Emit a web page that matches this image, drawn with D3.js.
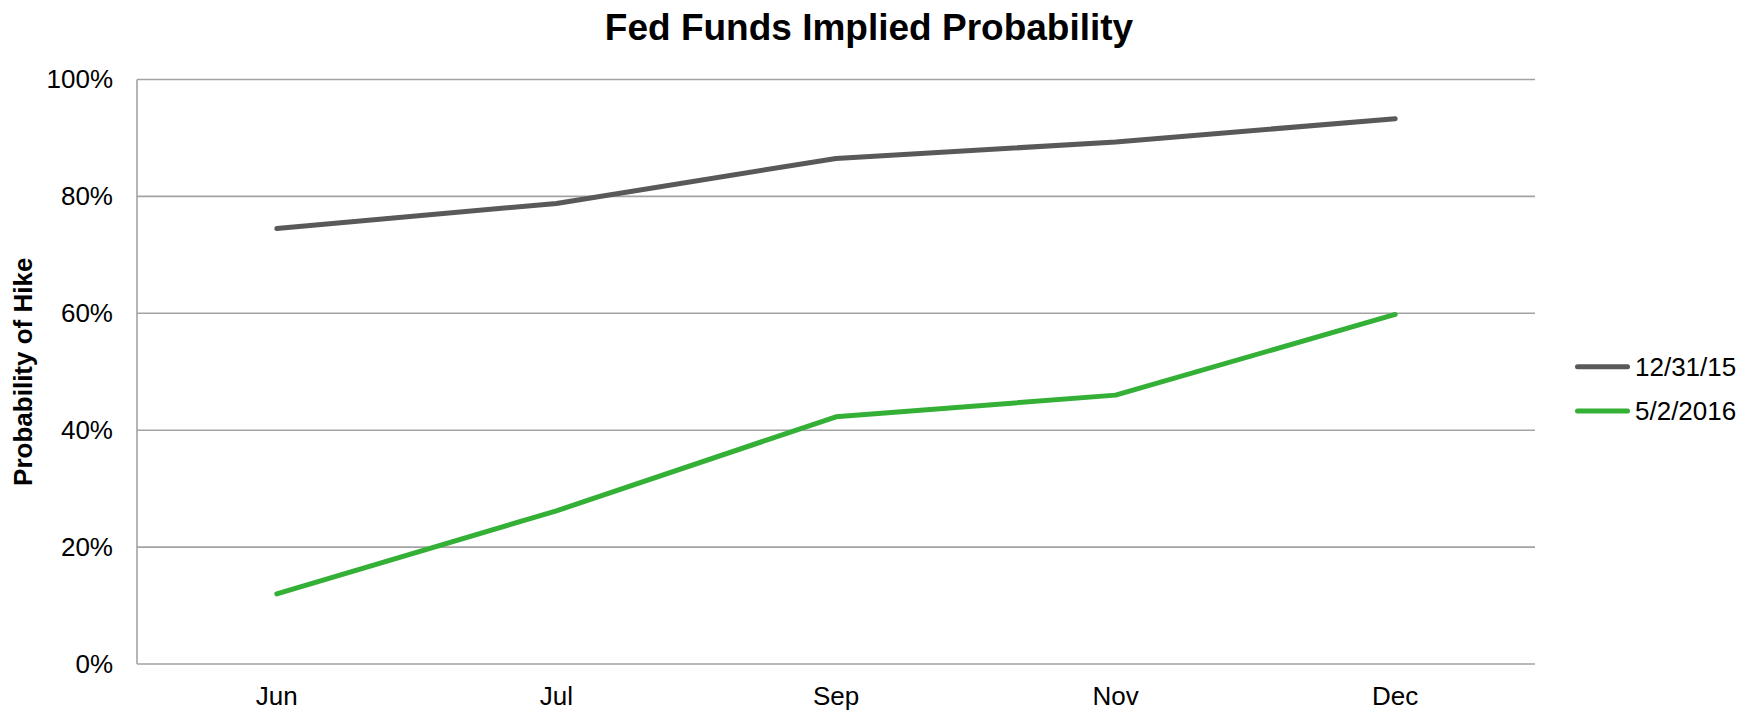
<!DOCTYPE html>
<html>
<head>
<meta charset="utf-8">
<script src="https://cdn.jsdelivr.net/npm/d3@7"></script>
<style>
  html, body { margin: 0; padding: 0; background: #fff; }
  svg { display: block; font-family: "Liberation Sans", Arial, sans-serif; }
</style>
</head>
<body>
<svg id="chart" width="1752" height="711"></svg>
<script>
// Meeting months and hike probabilities (%) on two dates
const months = ["Jun", "Jul", "Sep", "Nov", "Dec"];
const seriesNames = ["12/31/15", "5/2/2016"];
const probDec2015 = [74.5, 78.8, 86.5, 89.3, 93.3];
const probMay2016 = [12.0, 26.2, 42.3, 46.0, 59.8];
const yTicks = [0, 20, 40, 60, 80, 100];

const colors = ["#595959", "#33b035"];
const series = [
  { name: seriesNames[0], values: probDec2015, color: colors[0] },
  { name: seriesNames[1], values: probMay2016, color: colors[1] }
];

const svg = d3.select("#chart");
const plot = { left: 137, right: 1535, top: 79.5, bottom: 664 };

const x = d3.scaleBand().domain(months).range([plot.left, plot.right]);
const y = d3.scaleLinear().domain([0, 100]).range([plot.bottom, plot.top]);

// Horizontal gridlines
svg.append("g")
  .selectAll("line")
  .data(yTicks)
  .join("line")
  .attr("x1", plot.left).attr("x2", plot.right)
  .attr("y1", d => y(d)).attr("y2", d => y(d))
  .attr("stroke", "#a3a3a3").attr("stroke-width", 1.6);

// Left axis line
svg.append("line")
  .attr("x1", plot.left).attr("x2", plot.left)
  .attr("y1", plot.top).attr("y2", plot.bottom)
  .attr("stroke", "#a3a3a3").attr("stroke-width", 1.6);

// Y tick labels
const yAxis = d3.axisLeft(y).tickValues(yTicks).tickSize(0).tickPadding(24)
  .tickFormat(d => d + "%");
const gy = svg.append("g").attr("transform", `translate(${plot.left},0)`).call(yAxis);
gy.select(".domain").remove();
gy.selectAll("text").attr("font-size", 26).attr("fill", "#000")
  .attr("font-family", "Liberation Sans, Arial, sans-serif");

// X tick labels
const xAxis = d3.axisBottom(x).tickSize(0).tickPadding(23);
const gx = svg.append("g").attr("transform", `translate(0,${plot.bottom})`).call(xAxis);
gx.select(".domain").remove();
gx.selectAll("text").attr("font-size", 26).attr("fill", "#000")
  .attr("font-family", "Liberation Sans, Arial, sans-serif");

// Lines
const line = d3.line()
  .x((d, i) => x(months[i]) + x.bandwidth() / 2)
  .y(d => y(d));

svg.append("g")
  .selectAll("path")
  .data(series)
  .join("path")
  .attr("d", d => line(d.values))
  .attr("fill", "none")
  .attr("stroke", d => d.color)
  .attr("stroke-width", 5)
  .attr("stroke-linecap", "round")
  .attr("stroke-linejoin", "round");

// Title
svg.append("text")
  .attr("x", 869).attr("y", 39.5)
  .attr("text-anchor", "middle")
  .attr("font-size", 37).attr("font-weight", "bold")
  .text("Fed Funds Implied Probability");

// Y axis title
svg.append("text")
  .attr("transform", `translate(32,${(plot.top + plot.bottom) / 2}) rotate(-90)`)
  .attr("text-anchor", "middle")
  .attr("font-size", 26).attr("font-weight", "bold")
  .text("Probability of Hike");

// Legend
const legend = svg.append("g")
  .selectAll("g")
  .data(series)
  .join("g")
  .attr("transform", (d, i) => `translate(0,${366.7 + i * 44.3})`);
legend.append("line")
  .attr("x1", 1577.5).attr("x2", 1627.5)
  .attr("y1", 0).attr("y2", 0)
  .attr("stroke", d => d.color)
  .attr("stroke-width", 5)
  .attr("stroke-linecap", "round");
legend.append("text")
  .attr("x", 1635).attr("y", 8.8)
  .attr("font-size", 26)
  .text(d => d.name);
</script>
</body>
</html>
